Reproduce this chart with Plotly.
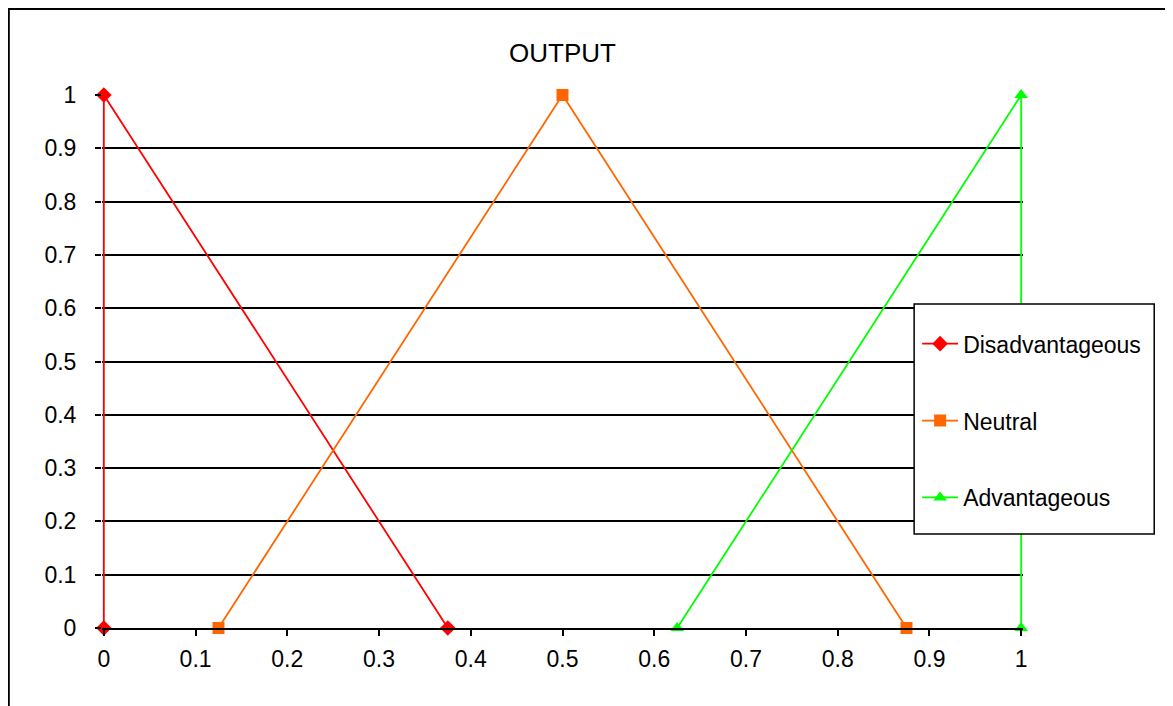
import plotly.graph_objects as go

series_names = ["Disadvantageous", "Neutral", "Advantageous"]
dis_x = [0, 0, 0.375]
dis_y = [0, 1, 0]
neu_x = [0.125, 0.5, 0.875]
neu_y = [0, 1, 0]
adv_x = [0.625, 1, 1]
adv_y = [0, 1, 0]
x_ticks = [0, 0.1, 0.2, 0.3, 0.4, 0.5, 0.6, 0.7, 0.8, 0.9, 1]
y_ticks = [0, 0.1, 0.2, 0.3, 0.4, 0.5, 0.6, 0.7, 0.8, 0.9, 1]

colors = ["#FF0000", "#FF6600", "#00FF00"]
symbols = ["diamond", "square", "triangle-up"]

fig = go.Figure()
for i, (name, xs, ys) in enumerate(zip(series_names, [dis_x, neu_x, adv_x], [dis_y, neu_y, adv_y])):
    fig.add_trace(go.Scatter(
        x=xs, y=ys, name=name, mode="lines+markers",
        line=dict(color=colors[i], width=1.8),
        marker=dict(symbol=symbols[i], size=12, color=colors[i]),
        legendgroup=name, cliponaxis=False,
    ))

# page offset (browser body margin)
OFF = 7
W, H = 1173, 706
E = 0.002  # small range padding so edge lines are not clipped
# target screen positions of data 0..1
SX0, SX1 = 103, 1020
SY1, SY0 = 94, 627
pw = (SX1 - SX0) * (1 + 2 * E)
L = SX0 - OFF - (SX1 - SX0) * E
R = W - L - pw
T = SY1 - OFF
B = H - T - (SY0 - SY1)

def px(sxv):
    return (sxv - OFF - L) / pw

def sy(py):
    return (SY0 - py) / (SY0 - SY1)

TICKFONT = dict(family="Arial, Liberation Sans, sans-serif", size=23, color="black")

fig.update_layout(
    width=W, height=H,
    margin=dict(l=L, r=R, t=T, b=B, pad=0),
    paper_bgcolor="white", plot_bgcolor="white",
    font=dict(family="Arial, Liberation Sans, sans-serif", size=23, color="black"),
    title=dict(text="OUTPUT", x=0.5, xref="paper", xanchor="center",
               y=1 - (52 - OFF) / H, yref="container", yanchor="middle",
               font=dict(size=26, color="black")),
    showlegend=True,
    legend=dict(
        x=px(916), y=sy(303), xanchor="left", yanchor="top",
        borderwidth=0, bgcolor="rgba(0,0,0,0)",
        font=dict(size=23, color="black"), tracegroupgap=44,
        title=dict(text=" ", font=dict(size=14)),
        itemwidth=36,
    ),
    xaxis=dict(
        range=[-E, 1 + E], tickvals=x_ticks, ticktext=[str(v) for v in x_ticks],
        tickfont=TICKFONT, ticklabelstandoff=3,
        showgrid=False, zeroline=False, showline=True, linecolor="black", linewidth=2,
        ticks="outside", ticklen=6, tickcolor="black", tickwidth=1.5,
    ),
    yaxis=dict(
        range=[0, 1], tickvals=y_ticks, ticktext=[str(v) for v in y_ticks],
        tickfont=TICKFONT,
        showgrid=True, gridcolor="black", gridwidth=1.5, zeroline=False,
        showline=False, ticklabelstandoff=14,
        ticks="outside", ticklen=6, tickcolor="black", tickwidth=1.5,
    ),
    shapes=[
        dict(
            type="rect", xref="paper", yref="paper",
            x0=px(8), x1=px(1200),
            y0=sy(730), y1=sy(OFF + 1),
            line=dict(color="black", width=2), fillcolor="rgba(0,0,0,0)", layer="below",
        ),
        dict(
            type="rect", xref="paper", yref="paper",
            x0=px(913), x1=px(1153), y0=sy(533), y1=sy(303),
            line=dict(color="black", width=1.5), fillcolor="white", layer="above",
        ),
    ],
)

fig.write_html("out.html")
